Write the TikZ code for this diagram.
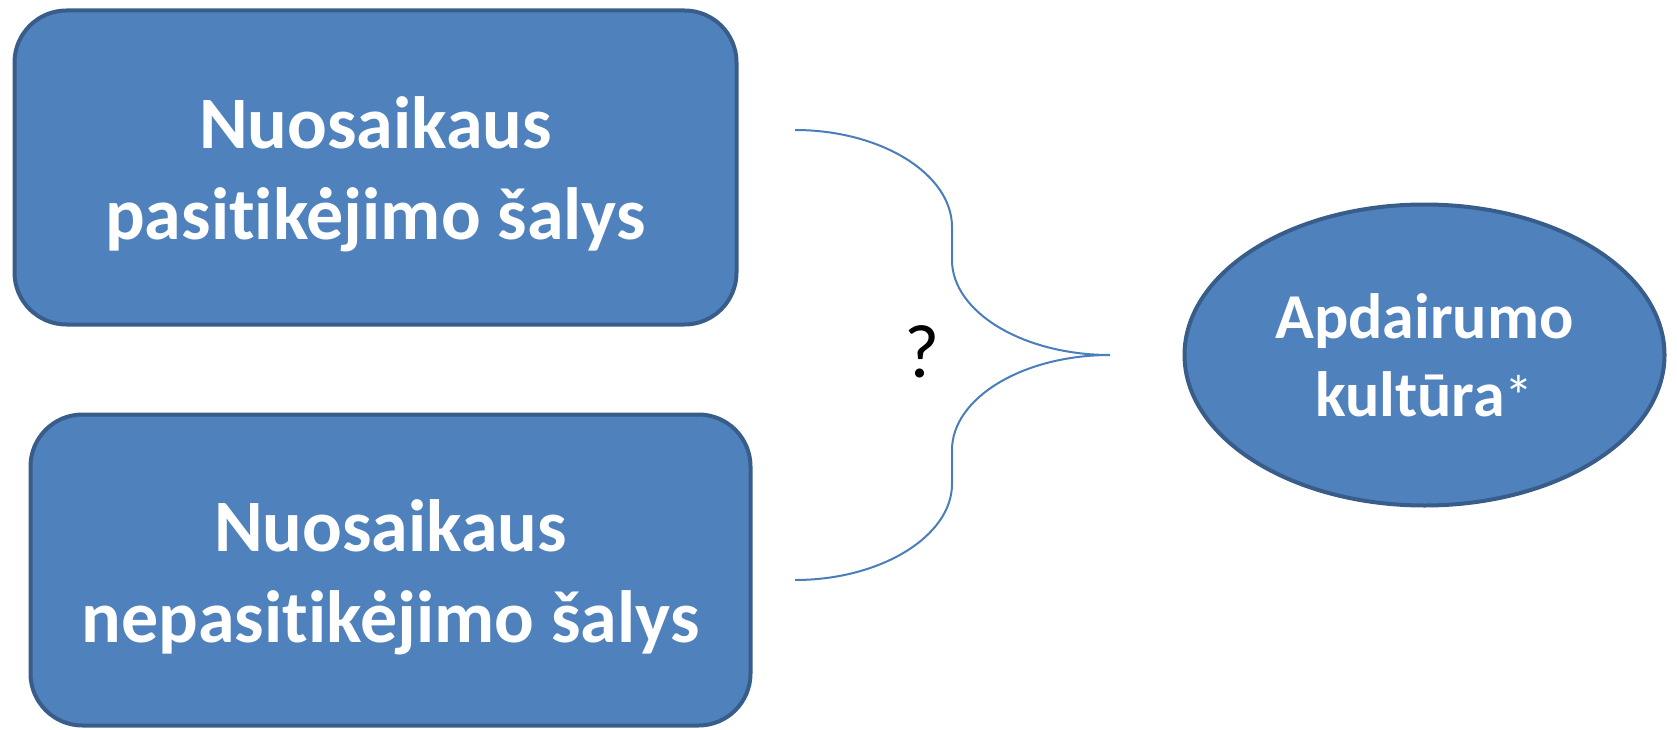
\documentclass[tikz,border=0pt]{standalone}
\usepackage{fontspec}
\setmainfont{Carlito}[Ligatures=NoCommon]
\usepackage{tikz}
\usetikzlibrary{shapes.geometric}
\definecolor{boxblue}{HTML}{4F81BD}
\definecolor{boxline}{HTML}{385D8A}
\definecolor{braceblue}{HTML}{4A7EBB}
\tikzstyle{mybox} = [draw=boxline, fill=boxblue, line width=4pt,
    rectangle, rounded corners=52pt, inner sep=0pt, align=center,
    text=white, font=\fontsize{74}{91}\selectfont\bfseries]
\tikzstyle{myellipse} = [draw=boxline, fill=boxblue, line width=4pt,
    ellipse, inner sep=0pt, align=center,
    text=white, font=\fontsize{64}{78}\selectfont\bfseries]
\tikzstyle{mybrace} = [draw=braceblue, line width=2pt]
\begin{document}
\begin{tikzpicture}[x=1pt, y=-1pt]
                \useasboundingbox (0,0) rectangle (1677,730);
                \node [mybox, minimum width=722pt, minimum height=314pt] (box1) at (375.5,167.5)
                    {\rule{0pt}{66pt}Nuosaikaus\\pasitikėjimo šalys};
                \node [mybox, minimum width=720pt, minimum height=311pt] (box2) at (390.5,570)
                    {\rule{0pt}{66pt}Nuosaikaus\\nepasitikėjimo šalys};
                \node [myellipse, minimum width=480pt, minimum height=301pt] (culture) at (1424.5,355)
                    {Apdairumo\\kultūra{\mdseries\fontsize{58}{60}\selectfont*}};
                \coordinate (top) at (795,130);
                \coordinate (bottom) at (795,580);
                \coordinate (tip) at (1110,355);
                \draw [mybrace] (top) .. controls (881,130) and (952,174) .. (952,227)
                    -- (952,260) .. controls (952,312) and (1023,355) .. (tip)
                    .. controls (1023,355) and (952,398) .. (952,450)
                    -- (952,484) .. controls (952,536) and (881,580) .. (bottom);
                \node [font=\fontsize{76}{90}\selectfont] (question) at (922,352) {?};
            \end{tikzpicture}
\end{document}
